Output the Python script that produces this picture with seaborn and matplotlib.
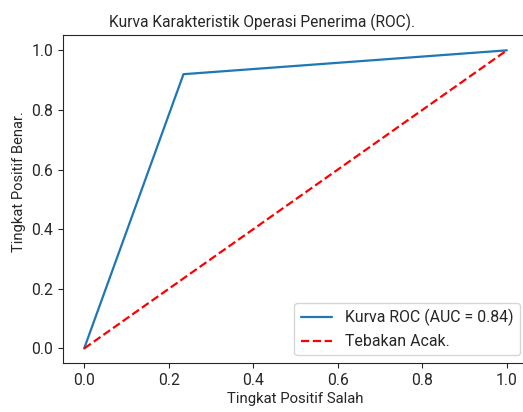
import matplotlib
matplotlib.use("Agg")
import matplotlib.pyplot as plt
import seaborn as sns
import pandas as pd

# ROC points
fpr = [0.0, 0.235, 1.0]
tpr = [0.0, 0.92, 1.0]
chance = [0.0, 1.0]
auc_value = 0.84

sns.set_style("ticks")
plt.rcParams["font.family"] = ["Roboto", "DejaVu Sans"]

fig = plt.figure(figsize=(5.23, 4.12), dpi=100)
ax = fig.add_axes([0.1205, 0.118, 0.889, 0.796])

roc = pd.DataFrame({"fpr": fpr, "tpr": tpr})
sns.lineplot(data=roc, x="fpr", y="tpr", ax=ax, color="#1f77b4", linewidth=1.6,
             label=f"Kurva ROC (AUC = {auc_value:.2f})", estimator=None, sort=False)
ax.plot(chance, chance, color="red", linestyle="--", linewidth=1.6, label="Tebakan Acak.")

ax.set_xticks([0.0, 0.2, 0.4, 0.6, 0.8, 1.0])
ax.set_yticks([0.0, 0.2, 0.4, 0.6, 0.8, 1.0])
ax.tick_params(labelsize=11.3)
ax.set_xlabel("Tingkat Positif Salah", fontsize=10.7, labelpad=3)
ax.set_ylabel("Tingkat Positif Benar.", fontsize=10.6, y=0.555)
ax.set_title("Kurva Karakteristik Operasi Penerima (ROC).", fontsize=11.2, x=0.428)
ax.legend(loc="lower right", fontsize=11.4)

plt.savefig("out.png", dpi=100)
plt.close()
